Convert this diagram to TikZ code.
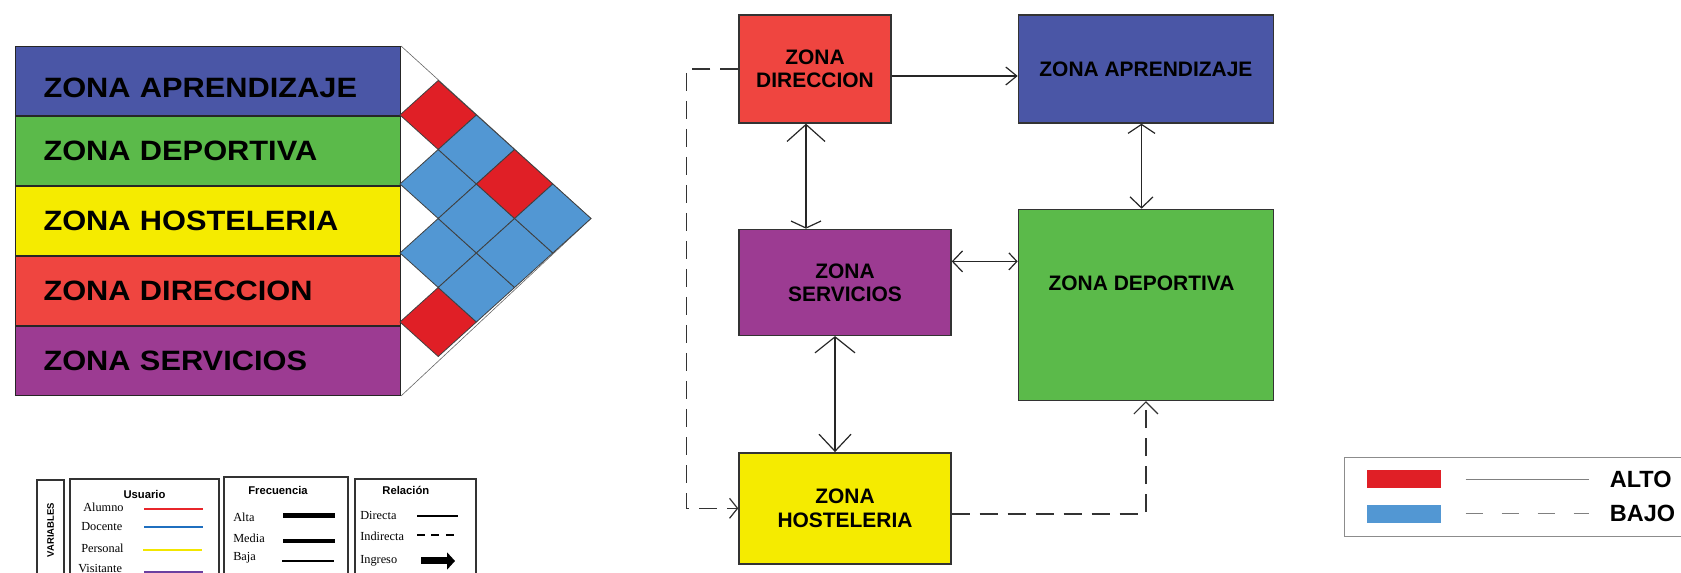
\documentclass[tikz,border=0pt]{standalone}
\usepackage{fontspec}
\setmainfont{Liberation Serif}
\setsansfont{Liberation Sans}
\newfontfamily\widesf[FakeStretch=1.1]{Liberation Sans}
\usepackage{tikz}
\usetikzlibrary{positioning,arrows.meta,calc}
\definecolor{aprFill}{HTML}{4A56A6}
\definecolor{depFill}{HTML}{5BBA4A}
\definecolor{hosFill}{HTML}{F5EB00}
\definecolor{dirFill}{HTML}{EF4540}
\definecolor{serFill}{HTML}{9C3B92}
\definecolor{altoRed}{HTML}{E01F26}
\definecolor{bajoBlue}{HTML}{5297D3}
\definecolor{usrRed}{HTML}{E8262B}
\definecolor{usrBlue}{HTML}{1F6FBF}
\definecolor{usrYellow}{HTML}{F2E600}
\definecolor{usrPurple}{HTML}{6B3FA0}

\begin{document}
\begin{tikzpicture}[
  x=0.25mm, y=0.25mm,
  font=\sffamily,
  bar/.style={draw=black!85, line width=0.25mm, anchor=north west, minimum width=96.25mm, minimum height=17.25mm,
              text width=82.25mm, inner xsep=7mm, inner ysep=0pt, align=left,
              font=\widesf\bfseries\fontsize{19.9}{23}\selectfont},
  zone/.style={draw=black!80, line width=0.35mm, align=center, inner sep=0pt,
               font=\sffamily\bfseries\fontsize{14.9}{16.4}\selectfont},
  rel/.style={draw=black!85, line width=0.3mm},
  ind/.style={draw=black!80, line width=0.3mm, dash pattern=on 4.5mm off 2.5mm},
  cell/.style={draw=black!75, line width=0.2mm},
  lgdbox/.style={draw=black!80, line width=0.5mm, anchor=north west, minimum height=40mm, inner sep=0pt},
  lgdhead/.style={font=\sffamily\bfseries\fontsize{8}{9}\selectfont, inner sep=0pt},
  lgditem/.style={font=\rmfamily\fontsize{8.75}{10}\selectfont, inner sep=0pt, anchor=west},
  usrln/.style={line width=0.4mm},
  keytxt/.style={font=\sffamily\bfseries\fontsize{16.7}{19}\selectfont, inner sep=0pt}
]
\useasboundingbox (0,0) rectangle (1681,573);
\clip (0,0) rectangle (1681,573);

% ============ LEFT: ZONE BARS + RELATION MATRIX ============
\node[bar, fill=aprFill, text height=8.25mm] (barApr) at (15,527) {ZONA APRENDIZAJE};
\node[bar, fill=depFill, below=0mm of barApr] (barDep) {ZONA DEPORTIVA};
\node[bar, fill=hosFill, below=0mm of barDep] (barHos) {ZONA HOSTELERIA};
\node[bar, fill=dirFill, below=0mm of barHos] (barDir) {ZONA DIRECCION};
\node[bar, fill=serFill, below=0mm of barDir] (barSer) {ZONA SERVICIOS};

\draw[draw=black!60, line width=0.15mm] (barApr.north east) -- (591,354.5) -- (barSer.south east);

% one diamond per pair of zones
\foreach \i/\j/\c in {1/2/altoRed, 2/3/bajoBlue, 3/4/bajoBlue, 4/5/altoRed, 1/3/bajoBlue,
                      2/4/bajoBlue, 3/5/bajoBlue, 1/4/altoRed, 2/5/bajoBlue, 1/5/bajoBlue}
  \filldraw[cell, fill=\c] ({400+38.2*(\j-\i)}, {527-34.5*(\i+\j-1)}) ++(-38.2,0)
    -- ++(38.2,34.5) -- ++(38.2,-34.5) -- ++(-38.2,-34.5) -- cycle;

% ============ RIGHT: ZONE DIAGRAM ============
\node[zone, fill=dirFill, minimum width=38mm, minimum height=27mm] (zDir) at (815,504) {ZONA\\DIRECCION};
\node[zone, fill=aprFill, minimum width=63.75mm, minimum height=27mm, right=31.5mm of zDir] (zApr) {ZONA APRENDIZAJE};
\node[zone, fill=serFill, minimum width=53mm, minimum height=26.5mm, below=26.25mm of zDir.south west, anchor=north west] (zSer) {ZONA\\SERVICIOS};
\node[zone, fill=depFill, minimum width=63.75mm, minimum height=47.75mm, below=21.25mm of zApr.south west, anchor=north west] (zDep) {};
\node[zone, draw=none] (depTxt) at ([xshift=-1.1mm, yshift=5.4mm]zDep.center) {ZONA DEPORTIVA};
\node[zone, fill=hosFill, minimum width=53mm, minimum height=27.75mm, below=29mm of zSer.south west, anchor=north west] (zHos) {ZONA\\HOSTELERIA};

% direct relations
\draw[rel, -{Straight Barb[length=2.75mm, width=4.5mm]}]
  ([yshift=-1.75mm]zDir.east) -- ([yshift=-1.75mm]zDir.east -| zApr.west);
\draw[rel, {Straight Barb[length=4.25mm, width=9.5mm]}-{Straight Barb[length=1.75mm, width=7.5mm]}]
  ([xshift=-2.25mm]zDir.south) -- ([xshift=-2.25mm]zDir.south |- zSer.north);
\draw[rel, {Straight Barb[length=2.25mm, width=6.75mm]}-{Straight Barb[length=2.75mm, width=5.75mm]}]
  ([xshift=-1.1mm]zApr.south) -- ([xshift=-1.1mm]zApr.south |- zDep.north);
\draw[rel, {Straight Barb[length=2.5mm, width=5.25mm]}-{Straight Barb[length=2mm, width=4.25mm]}]
  ([yshift=5.25mm]zSer.east) -- ([yshift=5.25mm]zSer.east -| zDep.west);
\draw[rel, {Straight Barb[length=4mm, width=10mm]}-{Straight Barb[length=4.25mm, width=8mm]}]
  ([xshift=-2.5mm]zSer.south) -- ([xshift=-2.5mm]zSer.south |- zHos.north);

% indirect relations
\draw[ind, -{Straight Barb[length=2mm, width=5mm]}] (zDir.west) -- ++(-13mm,0) |- (zHos.west);
\draw[ind, -{Straight Barb[length=3mm, width=6mm]}] ([yshift=-1.4mm]zHos.east) -| (zDep.south);

% ============ LEGEND: VARIABLES ============
\node[lgdbox, minimum width=6.75mm] (varBox) at (36,94) {};
\node[rotate=90, inner sep=0pt, font=\sffamily\bfseries\fontsize{6.76}{8}\selectfont] (varTxt)
  at ([yshift=-12.75mm]varBox.north) {VARIABLES};
\node[lgdbox, minimum width=37.25mm] (usrBox) at (69,95) {};
\node[lgdbox, minimum width=31mm] (freBox) at (223,97) {};
\node[lgdbox, minimum width=30.25mm] (relBox) at (354,95) {};

\node[lgdhead] (usrHead) at ([yshift=-4mm]usrBox.north) {Usuario};
\node[lgdhead] (freHead) at ([xshift=-2mm, yshift=-3.5mm]freBox.north) {Frecuencia};
\node[lgdhead] (relHead) at ([xshift=-2.4mm, yshift=-3mm]relBox.north) {Relación};

\node[lgditem] (itAlu) at (83,66) {Alumno};
\node[lgditem] (itDoc) at (81,46) {Docente};
\node[lgditem] (itPer) at (81,25) {Personal};
\node[lgditem] (itVis) at (78,4) {Visitante};
\draw[usrln, draw=usrRed] (itAlu.west) ++(61,-2) -- ++(59,0);
\draw[usrln, draw=usrBlue] (itDoc.west) ++(63,0) -- ++(59,0);
\draw[usrln, draw=usrYellow] (itPer.west) ++(62,-2) -- ++(59,0);
\draw[usrln, draw=usrPurple] (itVis.west) ++(66,-3) -- ++(59,0);

\node[lgditem] (itAlta) at (233,56) {Alta};
\node[lgditem] (itMedia) at (233,35) {Media};
\node[lgditem] (itBaja) at (233,15) {Baja};
\draw[line width=1.25mm] (itAlta.west) ++(50,1) -- ++(52,0);
\draw[line width=1mm] (itMedia.west) ++(50,-3) -- ++(52,0);
\draw[line width=0.35mm] (itBaja.west) ++(49,-3) -- ++(52,0);

\node[lgditem] (itDir) at (360,58) {Directa};
\node[lgditem] (itInd) at (360,37) {Indirecta};
\node[lgditem] (itIng) at (360,12) {Ingreso};
\draw[line width=0.35mm] (itDir.west) ++(57,-1) -- ++(41,0);
\draw[line width=0.35mm, dash pattern=on 2mm off 1.6mm] (itInd.west) ++(57,1) -- ++(38,0);
\draw[line width=1.75mm, -{Triangle[length=2mm, width=4.25mm]}] (itIng.west) ++(61,0) -- ++(34,0);

% ============ LEGEND: ALTO / BAJO ============
\node[draw=black!45, line width=0.35mm, anchor=north west, minimum width=90mm, minimum height=19.75mm, inner sep=0pt] (keyBox) at (1344,116) {};
\node[fill=altoRed, minimum width=18.5mm, minimum height=4.5mm, inner sep=0pt, anchor=north west] (keyAlto) at (1367,103) {};
\node[fill=bajoBlue, minimum width=18.5mm, minimum height=4.5mm, inner sep=0pt, below=4mm of keyAlto] (keyBajo) {};
\draw[draw=black!50, line width=0.25mm] (keyAlto.east) ++(24,0) -- ++(123,0);
\draw[draw=black!50, line width=0.25mm, dash pattern=on 4.25mm off 4.75mm] (keyBajo.east) ++(24,0) -- ++(123,0);
\node[keytxt, right=42mm of keyAlto] (altoTxt) {ALTO};
\node[keytxt, right=42mm of keyBajo] (bajoTxt) {BAJO};

\end{tikzpicture}
\end{document}
